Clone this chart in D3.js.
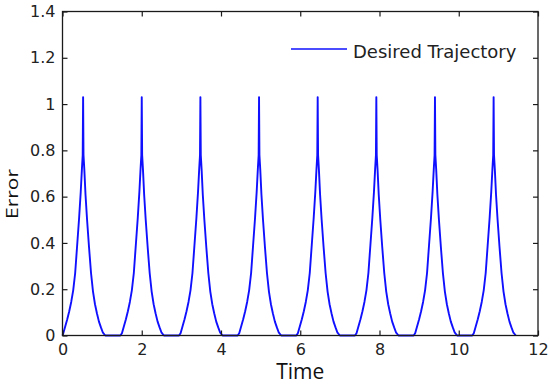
<!DOCTYPE html>
<html>
<head>
<meta charset="utf-8">
<script src="https://cdn.jsdelivr.net/npm/d3@7"></script>
<style>
  body { margin: 0; background: #fff; }
  svg { display: block; }
</style>
</head>
<body>
<svg></svg>
<script>
// peak times of the error pulses
var peakTimes = [0.52, 2.0, 3.48, 4.96, 6.44, 7.92, 9.40, 10.88]

// shape of one pulse: offset from its peak time, and error value
var pulseOffsets = [-0.54, -0.50, -0.45, -0.40, -0.35, -0.30, -0.25, -0.20, -0.15, -0.10, -0.06, -0.03, -0.01, 0,
                    0.01, 0.03, 0.06, 0.10, 0.15, 0.20, 0.25, 0.30, 0.35, 0.40, 0.45, 0.50, 0.56]
var pulseValues  = [0, 0.01, 0.04, 0.07, 0.105, 0.145, 0.195, 0.27, 0.39, 0.51, 0.62, 0.72, 0.78, 1.03,
                    0.78, 0.72, 0.61, 0.50, 0.38, 0.27, 0.19, 0.135, 0.095, 0.06, 0.035, 0.012, 0]

var xTicks = [0, 2, 4, 6, 8, 10, 12]
var yTicks = [0, 0.2, 0.4, 0.6, 0.8, 1, 1.2, 1.4]
var legendLabel = 'Desired Trajectory'

// build the series
var series = [[0, 0]]
peakTimes.forEach(function (t0) {
  pulseOffsets.forEach(function (dt, i) {
    var t = t0 + dt
    if (t > 0) series.push([t, pulseValues[i]])
  })
})

var width = 550
var height = 387
var margin = {left: 62.5, right: 12, top: 11.5, bottom: 51.5}

var svg = d3.select('svg').attr('width', width).attr('height', height)

var x = d3.scaleLinear().domain([0, 12]).range([margin.left, width - margin.right])
var y = d3.scaleLinear().domain([0, 1.4]).range([height - margin.bottom, margin.top])

var tickFont = '"DejaVu Sans", Verdana, sans-serif'
var axisColor = '#1a1a1a'

// the curve
var line = d3.line()
  .x(function (d) { return x(d[0]) })
  .y(function (d) { return y(d[1]) })

svg.append('path')
  .datum(series)
  .attr('fill', 'none')
  .attr('stroke', '#1010ff')
  .attr('stroke-width', 1.9)
  .attr('stroke-linejoin', 'round')
  .attr('d', line)

// axes, ticks inside, mirrored on top and right
function styleAxis(g) {
  g.select('.domain').remove()
  g.selectAll('.tick line').attr('stroke', axisColor).attr('stroke-width', 1.2)
  g.selectAll('.tick text')
    .attr('fill', '#222')
    .style('font-family', tickFont)
    .style('font-size', '16px')
}

svg.append('g')
  .attr('transform', 'translate(0,' + y(0) + ')')
  .call(d3.axisBottom(x).tickValues(xTicks).tickSizeInner(-5).tickSizeOuter(0).tickPadding(8).tickFormat(d3.format('d')))
  .call(styleAxis)

svg.append('g')
  .attr('transform', 'translate(0,' + y(1.4) + ')')
  .call(d3.axisTop(x).tickValues(xTicks).tickSizeInner(-5).tickSizeOuter(0).tickFormat(''))
  .call(styleAxis)

svg.append('g')
  .attr('transform', 'translate(' + x(0) + ',0)')
  .call(d3.axisLeft(y).tickValues(yTicks).tickSizeInner(-5).tickSizeOuter(0).tickPadding(7).tickFormat(d3.format('~g')))
  .call(styleAxis)

svg.append('g')
  .attr('transform', 'translate(' + x(12) + ',0)')
  .call(d3.axisRight(y).tickValues(yTicks).tickSizeInner(-5).tickSizeOuter(0).tickFormat(''))
  .call(styleAxis)

// frame
svg.append('rect')
  .attr('x', x(0)).attr('y', y(1.4))
  .attr('width', x(12) - x(0)).attr('height', y(0) - y(1.4))
  .attr('fill', 'none')
  .attr('stroke', axisColor)
  .attr('stroke-width', 1.3)

// axis titles
var labelFont = '"Open Sans", Lato, sans-serif'
svg.append('text')
  .attr('x', (x(0) + x(12)) / 2)
  .attr('y', 379)
  .attr('text-anchor', 'middle')
  .style('font-family', labelFont)
  .style('font-size', '21px')
  .attr('fill', '#111')
  .text('Time')

svg.append('text')
  .attr('transform', 'translate(18,194) rotate(-90) scale(1,0.8)')
  .attr('text-anchor', 'middle')
  .style('font-family', labelFont)
  .style('font-size', '21px')
  .attr('fill', '#111')
  .text('Error')

// legend
var legend = svg.append('g')
legend.append('line')
  .attr('x1', 291).attr('x2', 347)
  .attr('y1', 49).attr('y2', 49)
  .attr('stroke', '#1010ff')
  .attr('stroke-width', 1.6)
legend.append('text')
  .attr('x', 353)
  .attr('y', 57.5)
  .style('font-family', tickFont)
  .style('font-size', '18px')
  .attr('fill', '#222')
  .text(legendLabel)
</script>
</body>
</html>
